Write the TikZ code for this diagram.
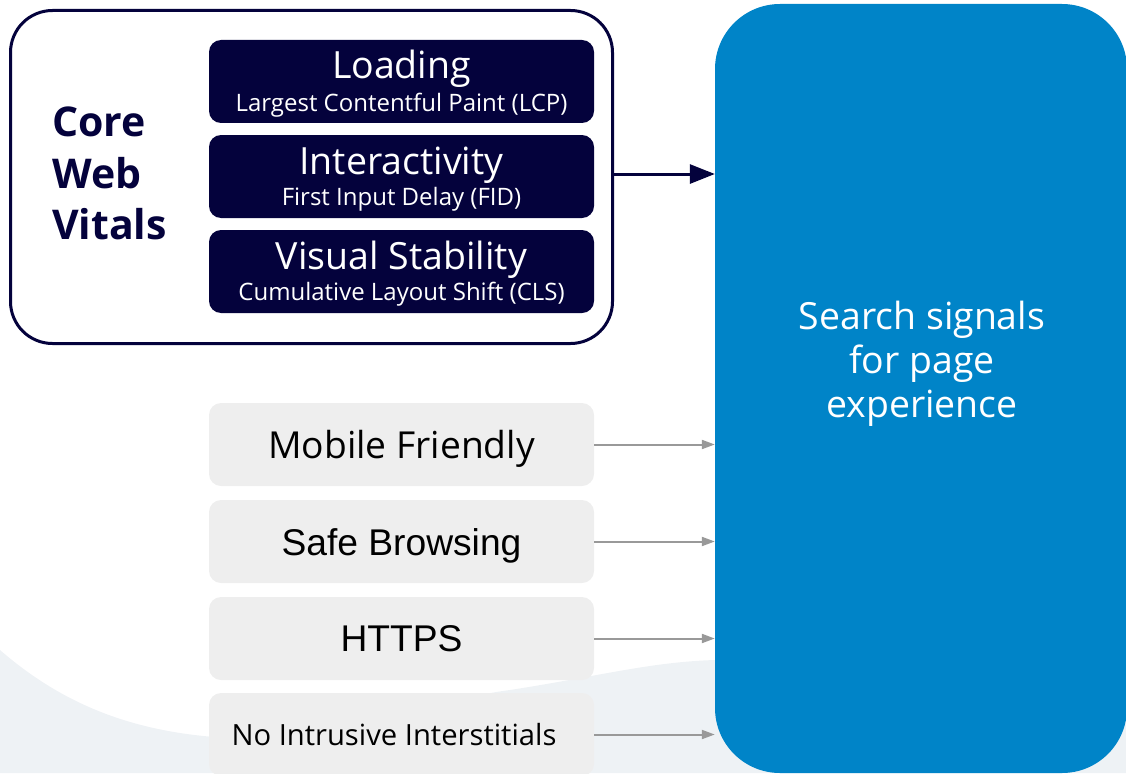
\documentclass[tikz,border=0pt]{standalone}
\usepackage{fontspec}
\setmainfont{Open Sans}
\newfontfamily\arialfont{Liberation Sans}
\usetikzlibrary{arrows.meta}
\definecolor{navy}{RGB}{4,2,60}
\definecolor{sigblue}{RGB}{0,132,200}
\definecolor{boxgray}{RGB}{238,238,238}
\definecolor{arrgray}{RGB}{153,153,153}
\definecolor{wavebg}{RGB}{238,242,245}
\begin{document}
\begin{tikzpicture}[x=1pt,y=-1pt,
  box/.style={rounded corners=12pt, inner sep=0pt, minimum width=385pt, minimum height=83pt},
  metric/.style={box, fill=navy},
  signal/.style={box, fill=boxgray},
  txt/.style={anchor=base, inner sep=0pt},
  title/.style={txt, text=white, font=\fontsize{37.5}{37.5}\selectfont},
  subtitle/.style={txt, text=white, font=\fontsize{24}{24}\selectfont},
  cwvtxt/.style={inner sep=0pt, anchor=base west, text=navy, font=\fontsize{41}{41}\selectfont\bfseries},
  sigtxt/.style={txt, text=white, font=\fontsize{37.4}{37.4}\selectfont},
  graytxt/.style={txt, text=black, font=\fontsize{37.2}{37.2}\selectfont},
  grayarrow/.style={draw=arrgray, line width=2pt, -{Triangle[length=13pt,width=9pt]}},
  navyarrow/.style={draw=navy, line width=3pt, -{Triangle[length=25pt,width=19pt]}}
]
\useasboundingbox (0,0) rectangle (1126,773);
% background wave
\fill[wavebg] (0,650) .. controls (60,702) and (130,733) .. (230,738)
  .. controls (350,742) and (430,700) .. (510,690)
  .. controls (600,676) and (650,662) .. (715,660)
  -- (1126,655) -- (1126,773) -- (0,773) -- cycle;

% signal box
\node[fill=sigblue, rounded corners=65pt, inner sep=0pt, minimum width=412pt, minimum height=769pt] (sig) at (921,388.5) {};
\node[sigtxt] (s1) at (922,329) {Search signals};
\node[sigtxt] (s2) at (922,373) {for page};
\node[sigtxt] (s3) at (922,417) {experience};

% core web vitals group
\node[draw=navy, line width=3pt, fill=white, rounded corners=42pt, inner sep=0pt, minimum width=602pt, minimum height=333pt] (cwv) at (311.5,177) {};
\node[cwvtxt] (c1) at (52,136) {Core};
\node[cwvtxt] (c2) at (52,188) {Web};
\node[cwvtxt] (c3) at (52,239) {Vitals};

\node[metric] (lcp) at (401.5,81.5) {};
\node[title] (lcpt) at (401.5,79) {Loading};
\node[subtitle] (lcps) at (401.5,111) {Largest Contentful Paint (LCP)};

\node[metric] (fid) at (401.5,176.5) {};
\node[title] (fidt) at (401.5,174) {Interactivity};
\node[subtitle] (fids) at (401.5,205) {First Input Delay (FID)};

\node[metric] (cls) at (401.5,271.5) {};
\node[title] (clst) at (401.5,269) {Visual Stability};
\node[subtitle] (clss) at (401.5,300) {Cumulative Layout Shift (CLS)};

% other signals
\node[signal] (mf) at (401.5,444.5) {};
\node[graytxt] (mft) at (401.5,458) {Mobile Friendly};
\node[signal] (sb) at (401.5,541.5) {};
\node[graytxt, font=\fontsize{37.2}{37.2}\selectfont\arialfont] (sbt) at (401.5,555) {Safe Browsing};
\node[signal] (hs) at (401.5,638.5) {};
\node[graytxt, font=\fontsize{37.2}{37.2}\selectfont\arialfont] (hst) at (401.5,651) {HTTPS};
\node[signal] (ni) at (401.5,734.5) {};
\node[graytxt, font=\fontsize{29.2}{29.2}\selectfont] (nit) at (394,745) {No Intrusive Interstitials};

% connectors
\draw[navyarrow] ([yshift=3pt]cwv.east) -- ([yshift=3pt]cwv.east -| sig.west);
\draw[grayarrow] (mf.east) -- (mf.east -| sig.west);
\draw[grayarrow] (sb.east) -- (sb.east -| sig.west);
\draw[grayarrow] (hs.east) -- (hs.east -| sig.west);
\draw[grayarrow] (ni.east) -- (ni.east -| sig.west);
\end{tikzpicture}
\end{document}
